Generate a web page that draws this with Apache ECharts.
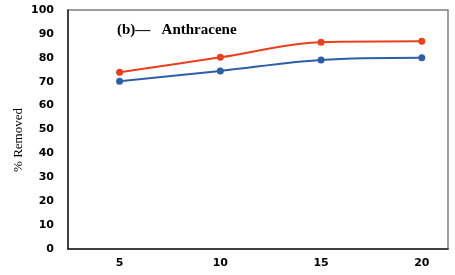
<!DOCTYPE html>
<html>
<head>
<meta charset="utf-8">
<script src="https://cdn.jsdelivr.net/npm/echarts@6/dist/echarts.min.js"></script>
<style>
  html, body { margin: 0; padding: 0; background: #fff; }
  #chart { width: 455px; height: 275px; }
</style>
</head>
<body>
<div id="chart"></div>
<script>
// x values (categories) and % removed for the two curves
const xValues = [5, 10, 15, 20]
const redValues = [74, 80.2, 86.5, 86.9]
const blueValues = [70.2, 74.5, 79.1, 80]
const xTicks = [5, 10, 15, 20]
const yTicks = [0, 10, 20, 30, 40, 50, 60, 70, 80, 90, 100]

const chart = echarts.init(document.getElementById('chart'))

const pairs = vals => xValues.map((x, i) => [x, vals[i]])
const tickFont = { fontFamily: 'DejaVu Sans', fontWeight: 'bold', fontSize: 11, color: '#000' }

const option = {
  animation: false,
  grid: { left: 68, right: 7, top: 10, bottom: 26, show: true, borderColor: '#808080', borderWidth: 1.5 },
  title: {
    text: '(b)––   Anthracene',
    left: 112, top: 18,
    textStyle: { fontFamily: 'Liberation Serif', fontWeight: 'bold', fontSize: 15, color: '#000' }
  },
  graphic: [{
    type: 'text', x: 12, y: 140, rotation: Math.PI / 2,
    style: {
      text: '% Removed', align: 'center', verticalAlign: 'top',
      fontFamily: 'Liberation Serif', fontSize: 13, fill: '#000'
    }
  }],
  xAxis: {
    type: 'value', min: 2.44, max: 21.3,
    axisLine: { show: true, lineStyle: { color: '#222', width: 1.5 } },
    axisTick: { show: false },
    splitLine: { show: false },
    axisLabel: { customValues: xTicks, margin: 9, ...tickFont }
  },
  yAxis: {
    type: 'value', min: 0, max: 100, interval: 10,
    axisLine: { show: true, lineStyle: { color: '#222', width: 1.5 } },
    axisTick: { show: false },
    splitLine: { show: false },
    axisLabel: { margin: 14, customValues: yTicks, ...tickFont }
  },
  series: [
    {
      type: 'line', data: pairs(redValues), smooth: 0.35,
      symbol: 'circle', symbolSize: 7,
      lineStyle: { color: '#e8401c', width: 2 },
      itemStyle: { color: '#e8401c' }
    },
    {
      type: 'line', data: pairs(blueValues), smooth: 0.35,
      symbol: 'circle', symbolSize: 7,
      lineStyle: { color: '#2f5ea8', width: 2 },
      itemStyle: { color: '#2f5ea8' }
    }
  ]
}
chart.setOption(option)
</script>
</body>
</html>
